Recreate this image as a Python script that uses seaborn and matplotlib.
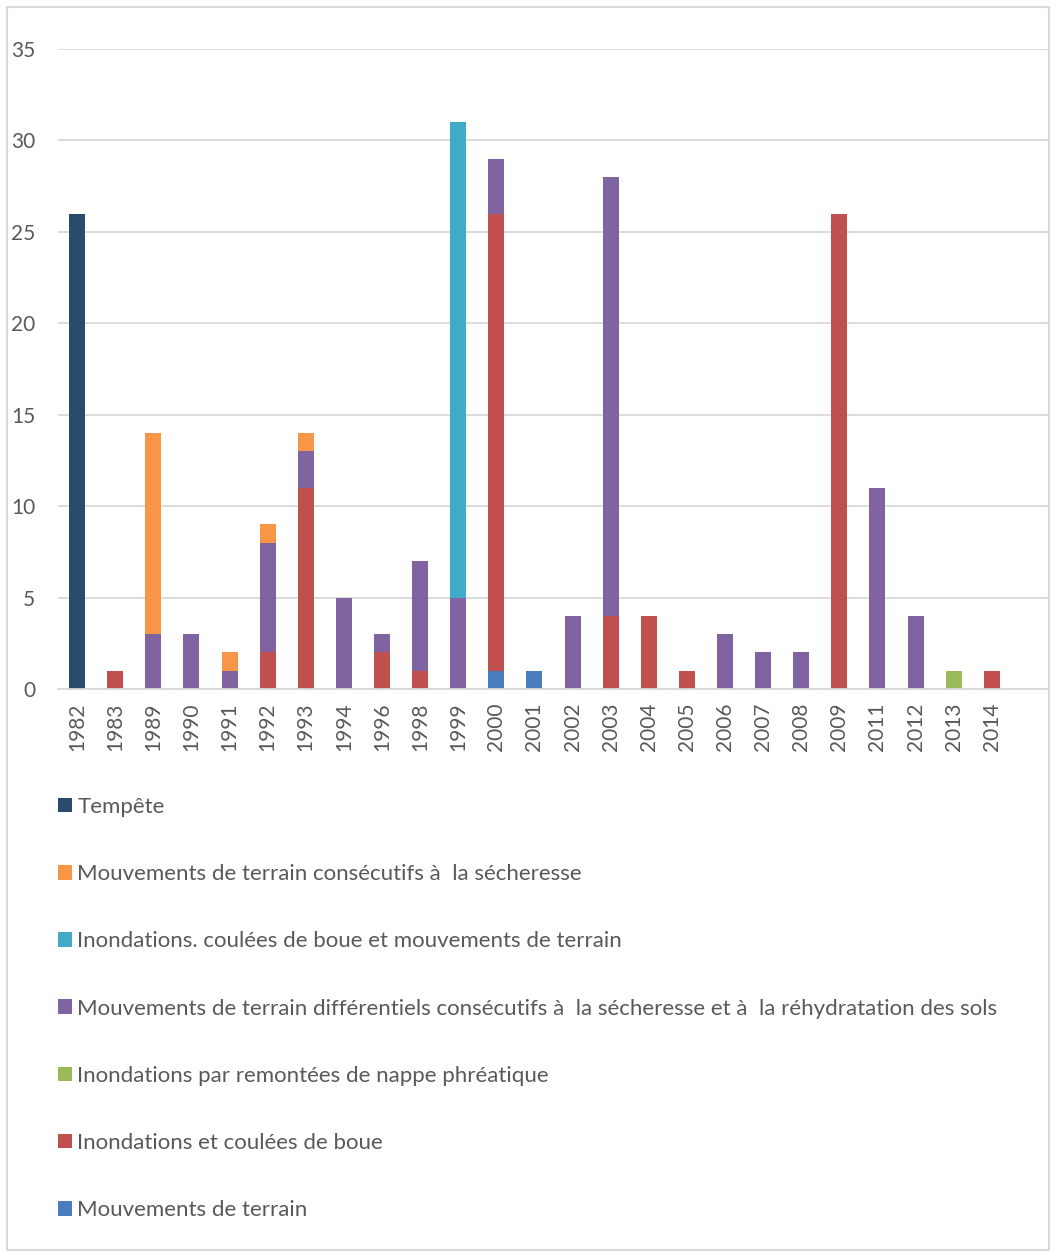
import numpy as np
import pandas as pd
import matplotlib
matplotlib.use("Agg")
import matplotlib.pyplot as plt
from matplotlib.patches import Patch, Rectangle
import seaborn as sns

years = ["1982", "1983", "1989", "1990", "1991", "1992", "1993", "1994", "1996",
         "1998", "1999", "2000", "2001", "2002", "2003", "2004", "2005", "2006",
         "2007", "2008", "2009", "2011", "2012", "2013", "2014"]

# stacked from bottom to top
mouvements_terrain = [0, 0, 0, 0, 0, 0, 0, 0, 0, 0, 0, 1, 1, 0, 0, 0, 0, 0, 0, 0, 0, 0, 0, 0, 0]
inondations_boue = [0, 1, 0, 0, 0, 2, 11, 0, 2, 1, 0, 25, 0, 0, 4, 4, 1, 0, 0, 0, 26, 0, 0, 0, 1]
remontees_nappe = [0, 0, 0, 0, 0, 0, 0, 0, 0, 0, 0, 0, 0, 0, 0, 0, 0, 0, 0, 0, 0, 0, 0, 1, 0]
mvt_differentiels = [0, 0, 3, 3, 1, 6, 2, 5, 1, 6, 5, 3, 0, 4, 24, 0, 0, 3, 2, 2, 0, 11, 4, 0, 0]
inond_boue_mvt = [0, 0, 0, 0, 0, 0, 0, 0, 0, 0, 26, 0, 0, 0, 0, 0, 0, 0, 0, 0, 0, 0, 0, 0, 0]
mvt_secheresse = [0, 0, 11, 0, 1, 1, 1, 0, 0, 0, 0, 0, 0, 0, 0, 0, 0, 0, 0, 0, 0, 0, 0, 0, 0]
tempete = [26, 0, 0, 0, 0, 0, 0, 0, 0, 0, 0, 0, 0, 0, 0, 0, 0, 0, 0, 0, 0, 0, 0, 0, 0]

series = [
    ("Mouvements de terrain", mouvements_terrain, "#4A7EBF"),
    ("Inondations et coulées de boue", inondations_boue, "#C0504D"),
    ("Inondations par remontées de nappe phréatique", remontees_nappe, "#9BBB59"),
    ("Mouvements de terrain différentiels consécutifs à  la sécheresse et à  la réhydratation des sols",
     mvt_differentiels, "#8064A2"),
    ("Inondations. coulées de boue et mouvements de terrain", inond_boue_mvt, "#41AAC6"),
    ("Mouvements de terrain consécutifs à  la sécheresse", mvt_secheresse, "#F79646"),
    ("Tempête", tempete, "#2A4B6E"),
]

sns.set_theme(style="white")
plt.rcParams["font.family"] = ["Lato", "DejaVu Sans"]
text_color = "#595959"
grid_color = "#D9D9D9"

W, H = 1051, 1252
fig = plt.figure(figsize=(W / 100, H / 100), dpi=100)
ax = fig.add_axes([58 / W, 1 - 689 / H, (1049 - 58) / W, (689 - 49) / H])

bottom = np.zeros(len(years))
for name, vals, col in series:
    df = pd.DataFrame({"year": years, "value": vals})
    sns.barplot(data=df, x="year", y="value", order=years, color=col,
                bottom=bottom, width=0.42, linewidth=0, saturation=1,
                errorbar=None, ax=ax)
    bottom = bottom + np.array(vals)

ax.set_xlim(-0.5, len(years) + 0.5)
ax.set_ylim(0, 35)
ax.set_yticks(range(0, 36, 5))
ax.yaxis.grid(True, color=grid_color, linewidth=1.3)
ax.set_axisbelow(True)
for s in ["top", "right", "left"]:
    ax.spines[s].set_visible(False)
ax.spines["bottom"].set_color(grid_color)
ax.spines["bottom"].set_linewidth(1.3)
ax.set_xlabel("")
ax.set_ylabel("")
ax.tick_params(axis="x", labelrotation=90, labelsize=15, colors=text_color, length=0, pad=10)
ax.tick_params(axis="y", labelsize=15, colors=text_color, length=0, pad=16.5)

handles = [Patch(facecolor=col, edgecolor="none", label=name) for name, _, col in reversed(series)]
leg = fig.legend(handles=handles, loc="upper left", bbox_to_anchor=(49 / W, 1 - 788 / H),
                 frameon=False, fontsize=16, labelcolor=text_color,
                 handlelength=0.63, handleheight=0.63, handletextpad=0.25,
                 labelspacing=2.125, borderaxespad=0)

fig.patches.append(Rectangle((7 / W, 1 - 1250 / H), (1049 - 7) / W, (1250 - 7) / H,
                             transform=fig.transFigure, fill=False,
                             edgecolor=grid_color, linewidth=1.5))

fig.savefig("out.png", dpi=100)
